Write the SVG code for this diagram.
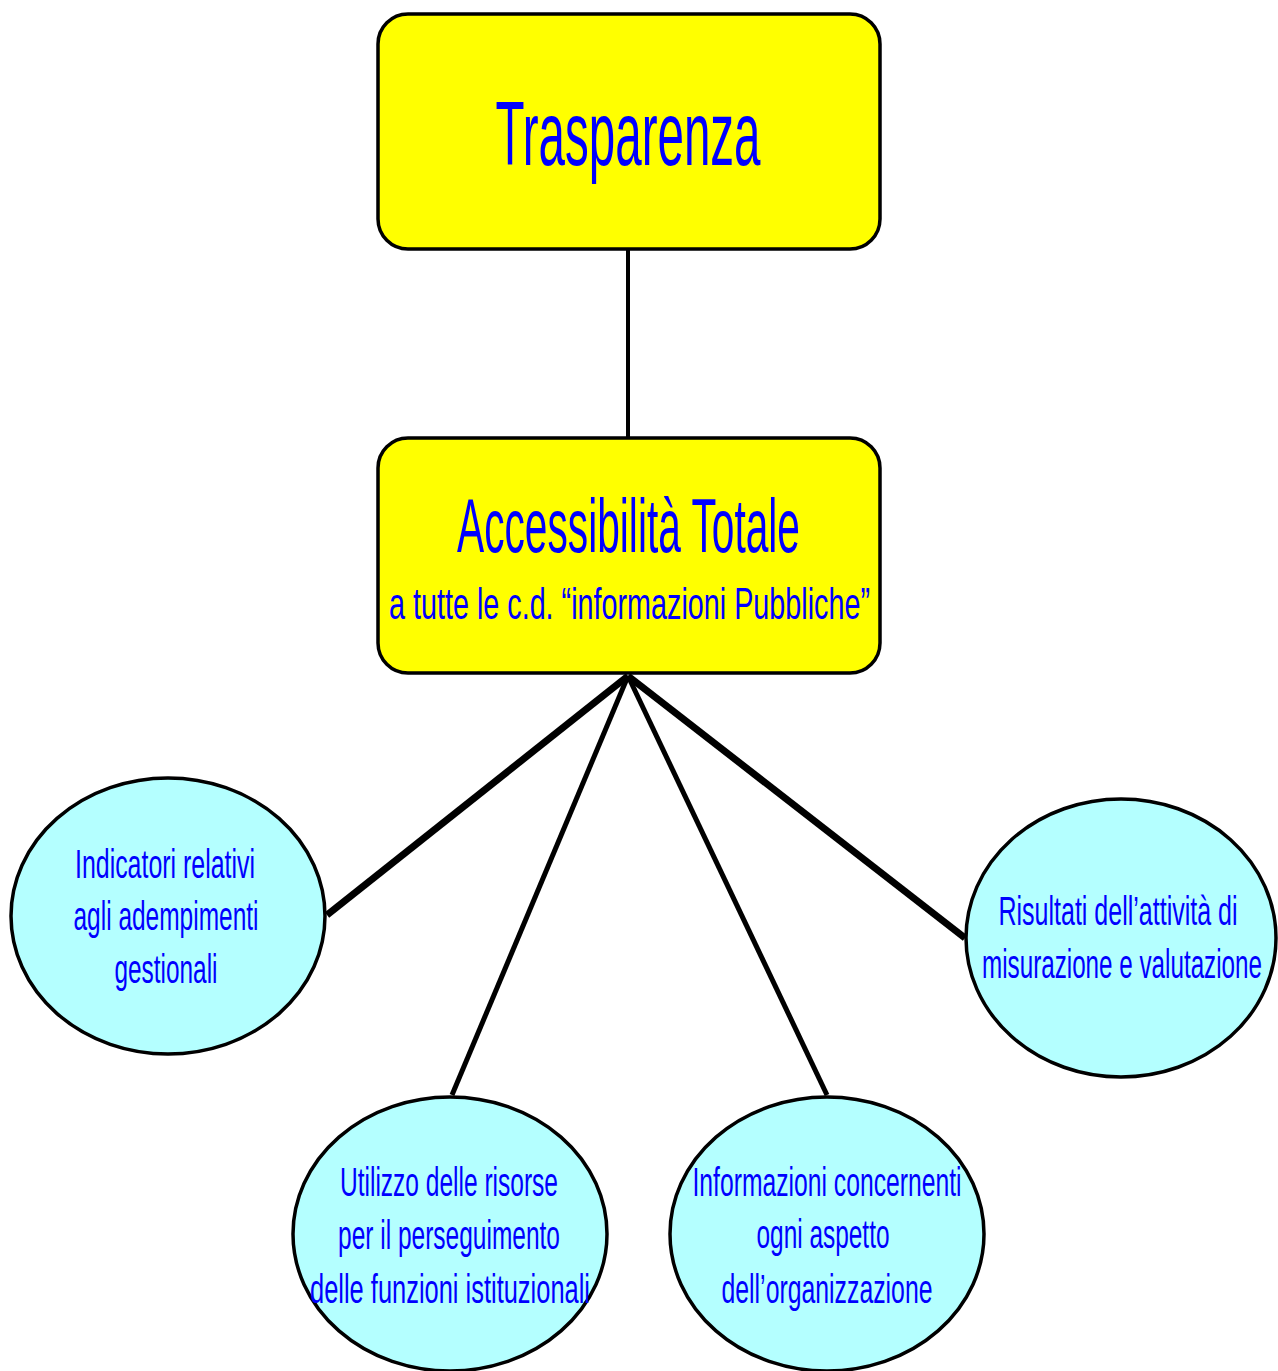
<svg xmlns="http://www.w3.org/2000/svg" width="1278" height="1371" viewBox="0 0 1278 1371">
<style>
.box{fill:#ffff00;stroke:#000;stroke-width:3.5}
.ell{fill:#b4ffff;stroke:#000;stroke-width:3.5}
text{font-family:"Liberation Sans",Arial,sans-serif;fill:#0000ff;text-anchor:middle}
.t{font-size:40px}
.conn line{stroke:#000;stroke-linecap:butt}
</style>
<rect width="1278" height="1371" fill="#fff"/>
<g id="connectors" class="conn">
<line x1="628" y1="249" x2="628" y2="437" stroke-width="4"/>
<line x1="628" y1="676" x2="327" y2="915" stroke-width="7"/>
<line x1="628" y1="676" x2="452" y2="1095" stroke-width="5"/>
<line x1="628" y1="676" x2="827" y2="1095" stroke-width="5"/>
<line x1="628" y1="676" x2="965" y2="938" stroke-width="7"/>
</g>
<g id="trasparenza">
<rect class="box" x="378" y="14" width="502" height="235" rx="30" ry="30"/>
<text x="628" y="165" font-size="90" textLength="265" lengthAdjust="spacingAndGlyphs">Trasparenza</text>
</g>
<g id="accessibilita">
<rect class="box" x="378" y="438" width="502" height="235" rx="30" ry="30"/>
<text x="628.5" y="552" font-size="76" textLength="343" lengthAdjust="spacingAndGlyphs">Accessibilità Totale</text>
<text x="629.5" y="619" font-size="45" textLength="481" lengthAdjust="spacingAndGlyphs">a tutte le c.d. “informazioni Pubbliche”</text>
</g>
<g id="indicatori">
<ellipse class="ell" cx="168" cy="916" rx="157" ry="138"/>
<text class="t" x="165" y="878" textLength="180" lengthAdjust="spacingAndGlyphs">Indicatori relativi</text>
<text class="t" x="166" y="930" textLength="185" lengthAdjust="spacingAndGlyphs">agli adempimenti</text>
<text class="t" x="166" y="983" textLength="103" lengthAdjust="spacingAndGlyphs">gestionali</text>
</g>
<g id="utilizzo">
<ellipse class="ell" cx="450" cy="1234" rx="157" ry="137"/>
<text class="t" x="449" y="1196" textLength="218" lengthAdjust="spacingAndGlyphs">Utilizzo delle risorse</text>
<text class="t" x="449" y="1249" textLength="222" lengthAdjust="spacingAndGlyphs">per il perseguimento</text>
<text class="t" x="450" y="1303" textLength="280" lengthAdjust="spacingAndGlyphs">delle funzioni istituzionali</text>
</g>
<g id="informazioni">
<ellipse class="ell" cx="827" cy="1234" rx="157" ry="137"/>
<text class="t" x="827" y="1196" textLength="269" lengthAdjust="spacingAndGlyphs">Informazioni concernenti</text>
<text class="t" x="823" y="1248" textLength="133" lengthAdjust="spacingAndGlyphs">ogni aspetto</text>
<text class="t" x="827" y="1303" textLength="211" lengthAdjust="spacingAndGlyphs">dell’organizzazione</text>
</g>
<g id="risultati">
<ellipse class="ell" cx="1121" cy="938" rx="155" ry="139"/>
<text class="t" x="1118" y="925" textLength="239" lengthAdjust="spacingAndGlyphs">Risultati dell’attività di</text>
<text class="t" x="1122" y="978" textLength="280" lengthAdjust="spacingAndGlyphs">misurazione e valutazione</text>
</g>
</svg>
